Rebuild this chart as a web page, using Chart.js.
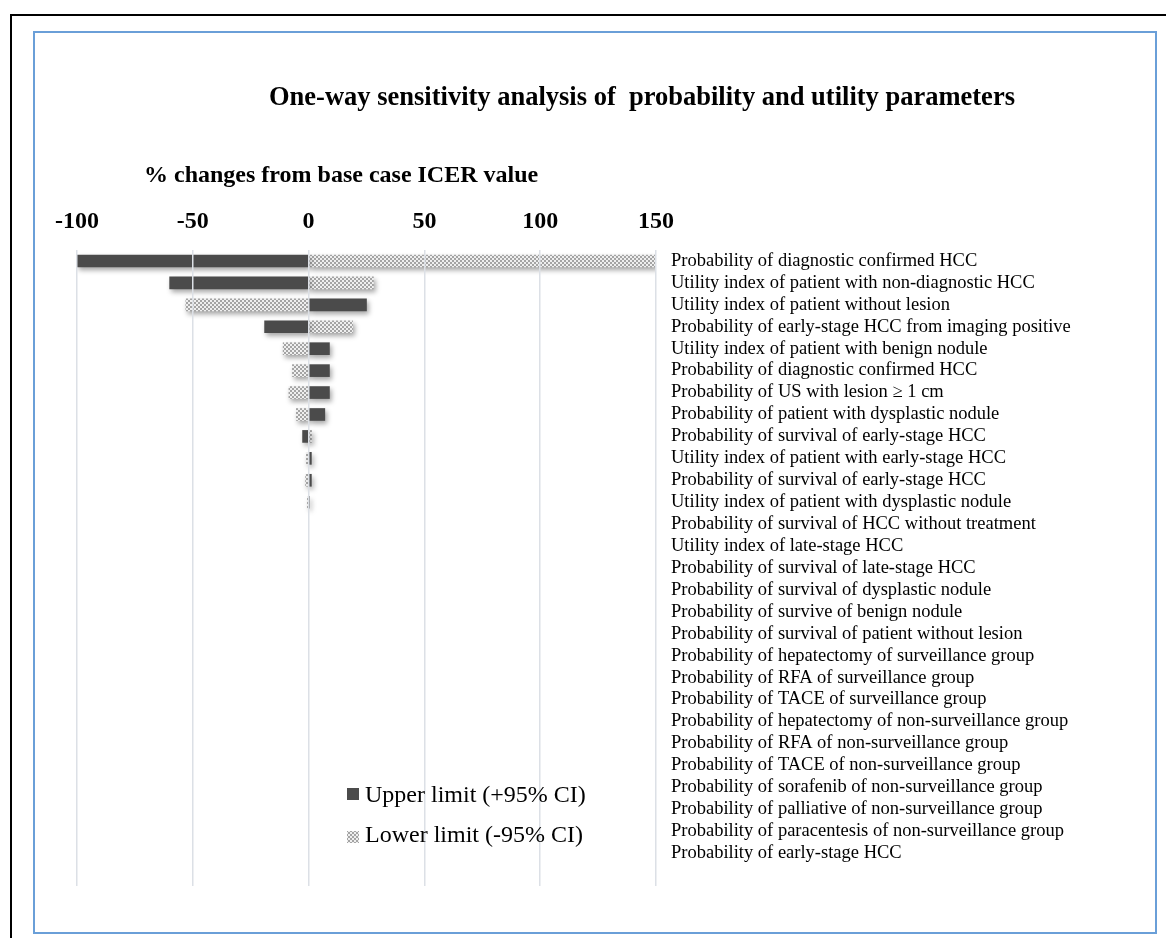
<!DOCTYPE html>
<html>
<head>
<meta charset="utf-8">
<script src="https://cdn.jsdelivr.net/npm/chart.js@4/dist/chart.umd.min.js"></script>
<style>
  html, body { margin: 0; padding: 0; background: #ffffff; overflow: hidden; width: 1166px; height: 938px; }
  #outer { position: absolute; left: 10px; top: 14px; width: 1300px; height: 1100px; border-left: 2px solid #000; border-top: 2px solid #000; }
  #inner { position: absolute; left: 33px; top: 31px; width: 1120px; height: 899px; border: 2px solid #6a9fd8; }
  #wrap { position: absolute; left: 0; top: 0; width: 1166px; height: 938px; }
</style>
</head>
<body>
<div id="outer"></div>
<div id="inner"></div>
<div id="wrap"><canvas id="c" width="1166" height="938"></canvas></div>
<script>
const categories = [
  "Probability of diagnostic confirmed HCC",
  "Utility index of patient with non-diagnostic HCC",
  "Utility index of patient without lesion",
  "Probability of early-stage HCC from imaging positive",
  "Utility index of patient with benign nodule",
  "Probability of diagnostic confirmed HCC",
  "Probability of US with lesion \u2265 1 cm",
  "Probability of patient with dysplastic nodule",
  "Probability of survival of early-stage HCC",
  "Utility index of patient with early-stage HCC",
  "Probability of survival of early-stage HCC",
  "Utility index of patient with dysplastic nodule",
  "Probability of survival of HCC without treatment",
  "Utility index of late-stage HCC",
  "Probability of survival of late-stage HCC",
  "Probability of survival of dysplastic nodule",
  "Probability of survive of benign nodule",
  "Probability of survival of patient without lesion",
  "Probability of hepatectomy of surveillance group",
  "Probability of RFA of surveillance group",
  "Probability of TACE of surveillance group",
  "Probability of hepatectomy of non-surveillance group",
  "Probability of RFA of non-surveillance group",
  "Probability of TACE of non-surveillance group",
  "Probability of sorafenib of non-surveillance group",
  "Probability of palliative of non-surveillance group",
  "Probability of paracentesis of non-surveillance group",
  "Probability of early-stage HCC",
  ""
];
const upperLimit = [-100, -60, 25, -19, 9, 9, 9, 7, -2.6, 1.2, 1.2, 0.1, 0, 0, 0, 0, 0, 0, 0, 0, 0, 0, 0, 0, 0, 0, 0, 0, null];
const lowerLimit = [150, 28, -53, 19, -11, -7, -8.5, -5.3, 1.3, -1, -1.3, -0.5, 0, 0, 0, 0, 0, 0, 0, 0, 0, 0, 0, 0, 0, 0, 0, 0, null];
const xTicks = [-100, -50, 0, 50, 100, 150];
const seriesNames = ["Upper limit (+95% CI)", "Lower limit (-95% CI)"];
const chartTitle = "One-way sensitivity analysis of  probability and utility parameters";
const axisTitle = "% changes from base case ICER value";

const SERIF = "'Liberation Serif', 'Times New Roman', serif";

function makePattern() {
  const c = document.createElement('canvas');
  c.width = 4; c.height = 4;
  const x = c.getContext('2d');
  x.fillStyle = '#efefef'; x.fillRect(0, 0, 4, 4);
  x.fillStyle = '#a4a4a4'; x.fillRect(0, 0, 2, 2); x.fillRect(2, 2, 2, 2);
  return x.createPattern(c, 'repeat');
}
const checker = makePattern();
const darkColor = '#4b4b4b';
const hideZero = (color) => (ctx) => (ctx.raw == null || Math.abs(ctx.raw) < 0.05) ? 'rgba(0,0,0,0)' : color;

const shadowPlugin = {
  id: 'barShadow',
  beforeDatasetsDraw(chart) {
    const c = chart.ctx;
    c.save();
    c.shadowColor = 'rgba(0,0,0,0.35)';
    c.shadowBlur = 5;
    c.shadowOffsetX = 2;
    c.shadowOffsetY = 3;
  },
  afterDatasetsDraw(chart) { chart.ctx.restore(); }
};

const textPlugin = {
  id: 'texts',
  afterDraw(chart) {
    const c = chart.ctx;
    c.save();
    c.fillStyle = '#000';
    c.textAlign = 'left';
    c.textBaseline = 'alphabetic';
    c.font = "bold 26.5px " + SERIF;
    c.fillText(chartTitle, 269, 105);
    c.font = "bold 24px " + SERIF;
    c.fillText(axisTitle, 144, 182);
    // legend
    c.font = "24px " + SERIF;
    const ds = chart.data.datasets;
    c.fillStyle = darkColor;
    c.fillRect(347, 788, 12, 12);
    c.fillStyle = checker;
    c.fillRect(347, 831, 12, 12);
    c.fillStyle = '#000';
    c.fillText(ds[0].label, 365, 802);
    c.fillText(ds[1].label, 365, 842);
    c.restore();
  }
};

new Chart(document.getElementById('c'), {
  type: 'bar',
  data: {
    labels: categories,
    datasets: [
      { label: seriesNames[0], data: upperLimit, backgroundColor: hideZero(darkColor), borderWidth: 0, barThickness: 12, grouped: false },
      { label: seriesNames[1], data: lowerLimit, backgroundColor: hideZero(checker), borderWidth: 0, barThickness: 12, grouped: false }
    ]
  },
  options: {
    indexAxis: 'y',
    responsive: false,
    animation: false,
    devicePixelRatio: 1,
    layout: { padding: { left: 77, right: 0, top: 0, bottom: 52 } },
    plugins: {
      legend: { display: false },
      title: { display: false },
      tooltip: { enabled: false }
    },
    scales: {
      x: {
        position: 'top',
        min: xTicks[0],
        max: xTicks[xTicks.length - 1],
        afterBuildTicks(scale) { scale.ticks = xTicks.map(v => ({ value: v })); },
        afterFit(scale) { scale.height = 250; },
        grid: { color: '#dce0e6', lineWidth: 1.5, drawTicks: false, z: 1 },
        border: { display: false },
        ticks: { padding: 14, color: '#000', font: { family: SERIF, size: 24, weight: 'bold' } }
      },
      y: {
        position: 'right',
        afterFit(scale) { scale.width = 510; },
        grid: { display: false, drawTicks: false },
        border: { display: false },
        ticks: { padding: 15, color: '#000', autoSkip: false, font: { family: SERIF, size: 18.5 } }
      }
    }
  },
  plugins: [shadowPlugin, textPlugin]
});
</script>
</body>
</html>
